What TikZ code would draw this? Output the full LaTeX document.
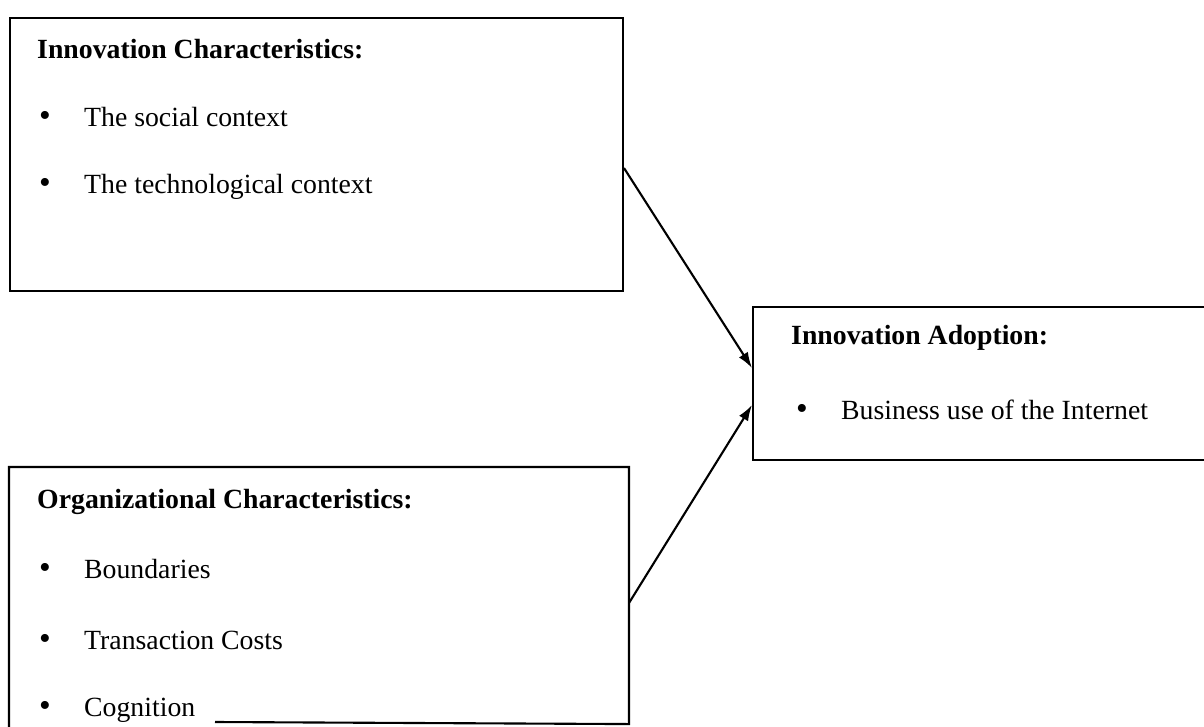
\documentclass[tikz,border=0pt]{standalone}
\usepackage{fontspec}
\setmainfont{Liberation Serif}
\usetikzlibrary{arrows.meta}
\newcommand{\dotmark}{\llap{{\fontsize{19}{19}\selectfont\textbullet}\hspace{19pt}}}

\begin{document}
\begin{tikzpicture}[x = 0.02cm, y = -0.02cm,
    box/.style = {draw, line width = 1.2pt, anchor = north west, inner sep = 0pt},
    head/.style = {anchor = base west, font = \fontsize{15.8}{18}\selectfont\bfseries},
    item/.style = {anchor = base west, font = \fontsize{15.8}{18}\selectfont},
    link/.style = {line width = 1.2pt, -{Latex[length = 9pt, width = 6pt]}}]
    \useasboundingbox (0,0) rectangle (1204,727);
    \clip (0,0) rectangle (1204,727);
    % boxes
    \node[box, minimum width = 12.26cm, minimum height = 5.46cm] (innov) at (9,17) {};
    \node[box, minimum width = 9.4cm, minimum height = 3.06cm] (adopt) at (752,306) {};
    \node[box, draw = none, minimum width = 12.36cm, minimum height = 5.1cm] (org) at (9,467) {};
    \draw[line width = 1.2pt] (215,722) -- (org.south east) -- (org.north east)
        -- (org.north west) -- (org.west |- 0,727);
    % texts
    \node[head] (innovhead) at (31,58) {Innovation Characteristics:};
    \node[item] (social) at (78,126) {\dotmark The social context};
    \node[item] (techno) at (78,193) {\dotmark The technological context};
    \node[head] (adopthead) at (785,344) {Innovation Adoption:};
    \node[item] (business) at (835,419) {\dotmark Business use of the Internet};
    \node[head] (orghead) at (31,508) {Organizational Characteristics:};
    \node[item] (bound) at (78,578) {\dotmark Boundaries};
    \node[item] (trans) at (78,649) {\dotmark Transaction Costs};
    \node[item] (cogn) at (78,716) {\dotmark Cognition};
    % links
    \coordinate (from1) at (innov.east |- 0,168);
    \coordinate (to1) at (adopt.west |- 0,368);
    \coordinate (from2) at (org.east |- 0,603);
    \coordinate (to2) at (adopt.west |- 0,405);
    \draw[link] (from1) -- (to1);
    \draw[link] (from2) -- (to2);
\end{tikzpicture}
\end{document}
